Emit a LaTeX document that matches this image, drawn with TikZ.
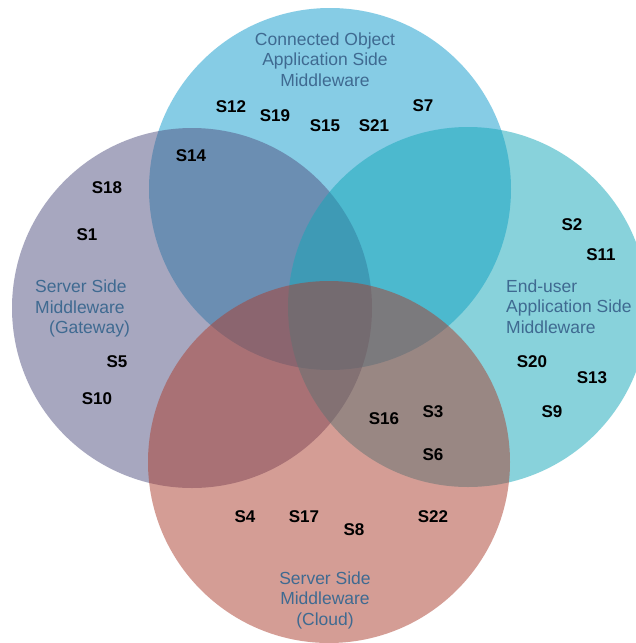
\documentclass[tikz,border=0pt]{standalone}
\usepackage{fontspec}
\setmainfont{Liberation Sans}
\definecolor{cTop}{RGB}{15,155,205}
\definecolor{cLeft}{RGB}{81,81,129}
\definecolor{cRight}{RGB}{19,167,185}
\definecolor{cBottom}{RGB}{171,61,45}
\definecolor{labcol}{RGB}{63,106,145}
\tikzset{
  venn/.style={fill opacity=0.5, draw=none},
  slab/.style={font=\bfseries\fontsize{17}{17}\selectfont, text=black, inner sep=0pt},
  setlab/.style={font=\fontsize{17.5}{20.5}\selectfont, text=labcol, inner sep=0pt}
}
\begin{document}
\begin{tikzpicture}[x=1pt,y=-1pt]
\useasboundingbox (0,0) rectangle (635,643);
\fill[white] (0,0) rectangle (635,643);
% circles
\fill[venn, cTop] (330,189) circle[radius=181];
\fill[venn, cLeft] (192,308) circle[radius=180];
\fill[venn, cRight] (468,307) circle[radius=180];
\fill[venn, cBottom] (329,462) circle[radius=181];
% set labels
\node[setlab, align=center] (ltop) at (325,59.5) {Connected Object\\Application Side\\Middleware};
\node[setlab, align=left, anchor=west] (lleft) at (35,308.5) {Server Side\\Middleware\\\hspace*{14pt}(Gateway)};
\node[setlab, align=left, anchor=west] (lright) at (506,306.5) {End-user\\Application Side\\Middleware};
\node[setlab, align=center] (lbottom) at (325,600) {Server Side\\Middleware\\(Cloud)};
% items
\node[slab] (s12) at (231,107) {S12};
\node[slab] (s19) at (275,116) {S19};
\node[slab] (s15) at (325,126) {S15};
\node[slab] (s21) at (374,126) {S21};
\node[slab] (s7) at (423,106) {S7};
\node[slab] (s14) at (191,156) {S14};
\node[slab] (s18) at (107,188) {S18};
\node[slab] (s1) at (87,235) {S1};
\node[slab] (s5) at (117,362) {S5};
\node[slab] (s10) at (97,399) {S10};
\node[slab] (s2) at (572,225) {S2};
\node[slab] (s11) at (601,255) {S11};
\node[slab] (s20) at (532,362) {S20};
\node[slab] (s13) at (592,378) {S13};
\node[slab] (s9) at (552,412) {S9};
\node[slab] (s16) at (384,419) {S16};
\node[slab] (s3) at (433,412) {S3};
\node[slab] (s6) at (433,455) {S6};
\node[slab] (s4) at (245,517) {S4};
\node[slab] (s17) at (304,517) {S17};
\node[slab] (s8) at (354,530) {S8};
\node[slab] (s22) at (433,517) {S22};
\end{tikzpicture}
\end{document}
